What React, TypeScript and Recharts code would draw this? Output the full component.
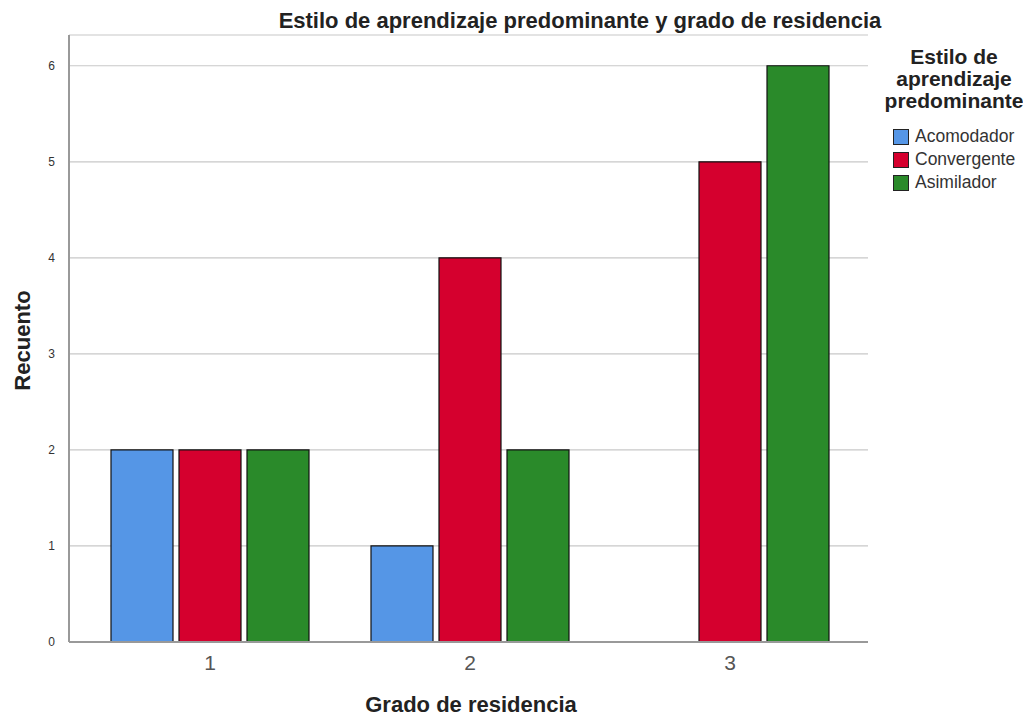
import React from 'react';
import { BarChart, Bar, XAxis, YAxis, CartesianGrid } from 'recharts';

const categories = ['1', '2', '3'];
const acomodador = [2, 1, 0];
const convergente = [2, 4, 5];
const asimilador = [2, 2, 6];
const yTicks = [0, 1, 2, 3, 4, 5, 6];

const SERIES = [
    { key: 'Acomodador', color: '#5596e6', values: acomodador },
    { key: 'Convergente', color: '#d5002e', values: convergente },
    { key: 'Asimilador', color: '#2a8a2a', values: asimilador },
];

const chartData = categories.map((name, i) => ({
    name,
    Acomodador: acomodador[i],
    Convergente: convergente[i],
    Asimilador: asimilador[i],
}));

const FONT = '"Liberation Sans", Arial, sans-serif';

export default function App() {
    return (
        <div style={{ position: 'relative', width: 1015, height: 705, fontFamily: FONT, background: '#fff' }}>
            <div style={{ position: 'absolute', left: 0, width: 1144, top: 0, textAlign: 'center', fontSize: 22, lineHeight: '25px', fontWeight: 'bold', color: '#222' }}>
                Estilo de aprendizaje predominante y grado de residencia
            </div>
            <div style={{ position: 'absolute', left: -56, top: 320, width: 140, textAlign: 'center', transform: 'rotate(-90deg)', fontSize: 22, lineHeight: '25px', fontWeight: 'bold', color: '#222' }}>
                Recuento
            </div>
            <div style={{ position: 'absolute', left: 263, width: 400, top: 684, textAlign: 'center', fontSize: 22, lineHeight: '25px', fontWeight: 'bold', color: '#222' }}>
                Grado de residencia
            </div>
            <div style={{ position: 'absolute', left: 866, top: 38, width: 160, textAlign: 'center', fontSize: 21, fontWeight: 'bold', lineHeight: '22px', color: '#222' }}>
                Estilo de<br />aprendizaje<br />predominante
            </div>
            <div style={{ position: 'absolute', left: 885, top: 117 }}>
                {SERIES.map(s => (
                    <div key={s.key} style={{ display: 'flex', alignItems: 'center', height: 23, fontSize: 17.5, color: '#333', whiteSpace: 'nowrap' }}>
                        <span style={{ display: 'inline-block', width: 16, height: 16, background: s.color, border: '1px solid #222', boxSizing: 'border-box', marginRight: 6 }} />
                        {s.key}
                    </div>
                ))}
            </div>
            <BarChart
                width={1015}
                height={705}
                data={chartData}
                margin={{ top: 27, right: 155, bottom: 41, left: 21 }}
                barCategoryGap={31}
                barGap={6}
            >
                <CartesianGrid vertical={false} stroke="#c8c8c8" strokeWidth={1.2} />
                <XAxis
                    dataKey="name"
                    height={30}
                    padding={{ left: 11, right: 8 }}
                    stroke="#999"
                    strokeWidth={2}
                    tickLine={false}
                    tick={{ fill: '#555', fontSize: 21, fontFamily: FONT }}
                    tickMargin={7}
                />
                <YAxis
                    width={40}
                    domain={[0, 6.32]}
                    ticks={yTicks}
                    stroke="#999"
                    strokeWidth={2}
                    tickLine={false}
                    tick={{ fill: '#333', fontSize: 12, fontFamily: FONT }}
                    tickMargin={8}
                />
                {SERIES.map(s => (
                    <Bar key={s.key} dataKey={s.key} fill={s.color} stroke="#111" strokeWidth={1.2} isAnimationActive={false} />
                ))}
            </BarChart>
        </div>
    );
}
